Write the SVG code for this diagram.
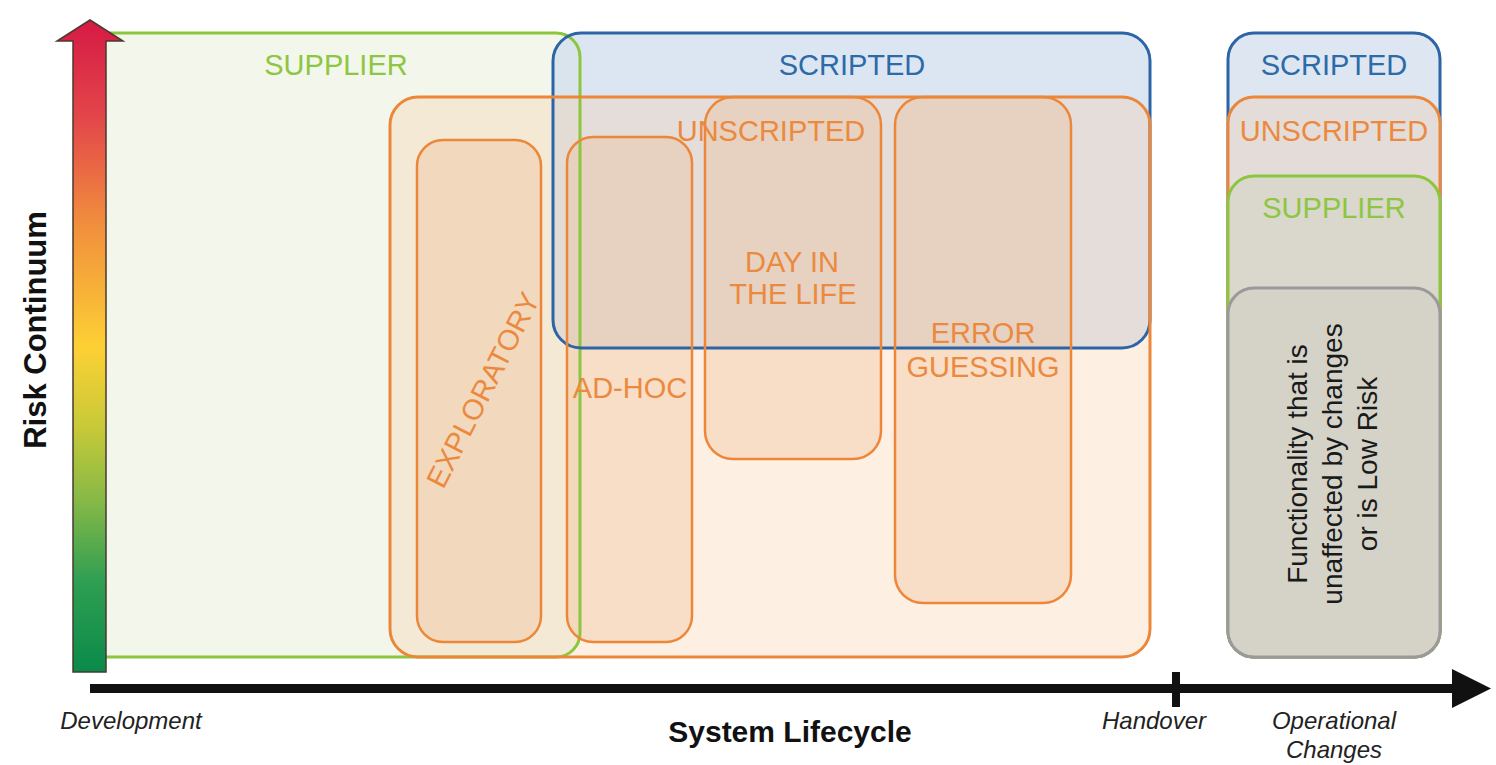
<svg xmlns="http://www.w3.org/2000/svg" width="1496" height="765" viewBox="0 0 1496 765">
  <defs>
    <linearGradient id="riskGrad" x1="0" y1="22" x2="0" y2="672" gradientUnits="userSpaceOnUse">
      <stop offset="0" stop-color="#d71a45"/>
      <stop offset="0.15" stop-color="#e3474a"/>
      <stop offset="0.3" stop-color="#f08a3e"/>
      <stop offset="0.5" stop-color="#fdd034"/>
      <stop offset="0.62" stop-color="#c9ca38"/>
      <stop offset="0.74" stop-color="#84b847"/>
      <stop offset="0.86" stop-color="#2f9f52"/>
      <stop offset="1" stop-color="#0a8a4a"/>
    </linearGradient>
  </defs>
  <style>
    .lbl { font-family: "Liberation Sans", Arial, sans-serif; font-size: 29px; text-anchor: middle; }
    .green { fill: #8dc641; }
    .blue { fill: #2c6aa8; }
    .orange { fill: #eb8a3e; }
    .supplier { fill: #f1f6e8; fill-opacity: 0.85; }
    .scripted { fill: #cddbed; fill-opacity: 0.7; }
    .unscripted { fill: #f8c9a0; fill-opacity: 0.3; }
    .method { fill: #efb990; fill-opacity: 0.32; }
    .edge { fill: none; stroke-width: 3; }
    .edge-green { stroke: #8cc63f; }
    .edge-blue { stroke: #2c64a5; }
    .edge-orange { stroke: #ec873a; }
    .edge-method { stroke: #ec873a; stroke-width: 2.5; }
    .axis { font-family: "Liberation Sans", Arial, sans-serif; font-style: italic; font-size: 24px; fill: #222; text-anchor: middle; }
    .title { font-family: "Liberation Sans", Arial, sans-serif; font-weight: bold; fill: #111; text-anchor: middle; }
  </style>

  <!-- lifecycle area: translucent approach regions -->
  <g id="supplier">
    <rect class="supplier" x="80" y="33" width="500" height="624" rx="24"/>
  </g>
  <g id="scripted">
    <rect class="scripted" x="553" y="33" width="597" height="315" rx="28"/>
  </g>
  <g id="unscripted">
    <rect class="unscripted" x="390" y="97" width="760" height="560" rx="28"/>
  </g>
  <g id="exploratory">
    <rect class="method" x="417" y="140" width="124" height="502" rx="26"/>
  </g>
  <g id="adhoc">
    <rect class="method" x="567" y="137" width="125" height="505" rx="26"/>
  </g>
  <g id="dayinlife">
    <rect class="method" x="705" y="97" width="176" height="362" rx="28"/>
  </g>
  <g id="errorguessing">
    <rect class="method" x="895" y="97" width="176" height="506" rx="28"/>
  </g>

  <!-- outlines drawn above all region fills -->
  <g id="region-outlines">
    <rect class="edge edge-green" x="80" y="33" width="500" height="624" rx="24"/>
    <rect class="edge edge-blue" x="553" y="33" width="597" height="315" rx="28"/>
    <rect class="edge edge-orange" x="390" y="97" width="760" height="560" rx="28"/>
    <rect class="edge edge-method" x="417" y="140" width="124" height="502" rx="26"/>
    <rect class="edge edge-method" x="567" y="137" width="125" height="505" rx="26"/>
    <rect class="edge edge-method" x="705" y="97" width="176" height="362" rx="28"/>
    <rect class="edge edge-method" x="895" y="97" width="176" height="506" rx="28"/>
  </g>

  <g id="region-labels">
    <text class="lbl green" x="336" y="75">SUPPLIER</text>
    <text class="lbl blue" x="852" y="75">SCRIPTED</text>
    <text class="lbl orange" x="771" y="141">UNSCRIPTED</text>
    <text class="lbl orange" x="483" y="390" dominant-baseline="central" transform="rotate(-63 483 390)">EXPLORATORY</text>
    <text class="lbl orange" x="630" y="398">AD-HOC</text>
    <text class="lbl orange" x="792" y="272">DAY IN</text>
    <text class="lbl orange" x="793" y="304">THE LIFE</text>
    <text class="lbl orange" x="983" y="343">ERROR</text>
    <text class="lbl orange" x="983" y="377">GUESSING</text>
  </g>

  <!-- operational changes stack -->
  <g id="op-scripted">
    <rect x="1228" y="33" width="212" height="624" rx="26" fill="#dde6f1" stroke="#2c64a5" stroke-width="3"/>
    <text class="lbl blue" x="1334" y="75">SCRIPTED</text>
  </g>
  <g id="op-unscripted">
    <rect x="1228" y="97" width="212" height="560" rx="26" fill="#e4dcd8" stroke="#ec873a" stroke-width="3"/>
    <text class="lbl orange" x="1334" y="141">UNSCRIPTED</text>
  </g>
  <g id="op-supplier">
    <rect x="1228" y="176" width="212" height="481" rx="26" fill="#dad7cc" stroke="#8cc63f" stroke-width="3"/>
    <text class="lbl green" x="1334" y="218">SUPPLIER</text>
  </g>
  <g id="op-lowrisk">
    <rect x="1228" y="288" width="212" height="369" rx="26" fill="#d5d2c8" stroke="#9a9a9a" stroke-width="3"/>
    <g transform="translate(1334 464) rotate(-90)" font-family="Liberation Sans, Arial, sans-serif" font-size="28" fill="#1a1a1a" text-anchor="middle">
      <text x="0" y="-27">Functionality that is</text>
      <text x="0" y="8">unaffected by changes</text>
      <text x="0" y="43">or is Low Risk</text>
    </g>
  </g>

  <!-- axes -->
  <g id="connectors">
    <path d="M73 672 L73 41 L57 41 L90 20 L123 41 L106 41 L106 672 Z" fill="url(#riskGrad)" stroke="#4a3a30" stroke-width="1.5" stroke-linejoin="miter"/>
    <rect x="90" y="684" width="1365" height="9" fill="#111"/>
    <path d="M1452 669 L1491 688.5 L1452 708 Z" fill="#111"/>
    <rect x="1172" y="672" width="8" height="35" fill="#111"/>
  </g>

  <g id="axis-labels">
    <text class="title" x="35" y="330" font-size="31" dominant-baseline="central" transform="rotate(-90 35 330)">Risk Continuum</text>
    <text class="title" x="790" y="742" font-size="30">System Lifecycle</text>
    <text class="axis" x="131" y="729">Development</text>
    <text class="axis" x="1154" y="729">Handover</text>
    <text class="axis" x="1334" y="729">Operational</text>
    <text class="axis" x="1334" y="758">Changes</text>
  </g>
</svg>
